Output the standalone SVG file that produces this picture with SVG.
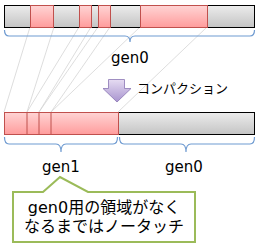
<svg xmlns="http://www.w3.org/2000/svg" width="260" height="250" viewBox="0 0 260 250">
<defs>
<linearGradient id="gGray" x1="0" y1="0" x2="0" y2="1"><stop offset="0" stop-color="#ececec"/><stop offset="1" stop-color="#c4c4c4"/></linearGradient>
<linearGradient id="gRed" x1="0" y1="0" x2="0" y2="1"><stop offset="0" stop-color="#ffd4d4"/><stop offset="1" stop-color="#ff9c9c"/></linearGradient>
<linearGradient id="gArrow" x1="0" y1="0" x2="0" y2="1"><stop offset="0" stop-color="#e6dcf2"/><stop offset="1" stop-color="#a894cf"/></linearGradient>
</defs>
<style>
.bar{fill:url(#gGray);stroke:#000;stroke-width:1}
.red{fill:url(#gRed);stroke:#c0504d;stroke-width:1}
.brace{fill:none;stroke:#6f9bd1;stroke-width:1.2}
.conn{stroke:#d4d4d4;stroke-width:0.8;fill:none}
.lbl{font-family:"DejaVu Sans","Noto Sans CJK JP",sans-serif;fill:#000}
</style>
<g id="connectors">
<line class="conn" x1="30" y1="27" x2="4" y2="112"/>
<line class="conn" x1="54" y1="27" x2="27" y2="112"/>
<line class="conn" x1="79" y1="27" x2="27" y2="112"/>
<line class="conn" x1="91" y1="27" x2="39" y2="112"/>
<line class="conn" x1="98" y1="27" x2="39" y2="112"/>
<line class="conn" x1="110" y1="27" x2="51" y2="112"/>
<line class="conn" x1="140" y1="27" x2="51" y2="112"/>
<line class="conn" x1="207" y1="27" x2="118" y2="112"/>
</g>
<g id="topbar">
<rect class="bar" x="4.5" y="5.5" width="250" height="22"/>
<rect class="red" x="30.5" y="5.5" width="23" height="22"/>
<rect class="red" x="79.5" y="5.5" width="12" height="22"/>
<rect class="red" x="98.5" y="5.5" width="12" height="22"/>
<rect class="red" x="140.5" y="5.5" width="67" height="22"/>
</g>
<g id="topbrace">
<path class="brace" d="M4.5,30 Q4.5,36 9,36 H125 Q130,36 130,42 Q130,36 135,36 H250 Q254.5,36 254.5,30"/>
<text class="lbl" x="130" y="63" font-size="15" text-anchor="middle">gen0</text>
</g>
<g id="arrow">
<polygon points="108.5,79.5 124.5,79.5 124.5,88.5 131,88.5 117,102 103,88.5 108.5,88.5" fill="url(#gArrow)" stroke="#8a76b4" stroke-width="0.8"/>
<text class="lbl" x="137" y="93" font-size="13">コンパクション</text>
</g>
<g id="bottombar">
<rect class="bar" x="4.5" y="112.5" width="250" height="22"/>
<rect class="red" x="4.5" y="112.5" width="114" height="22"/>
<line x1="27" y1="112.5" x2="27" y2="134.5" stroke="#c0504d"/>
<line x1="39" y1="112.5" x2="39" y2="134.5" stroke="#c0504d"/>
<line x1="51" y1="112.5" x2="51" y2="134.5" stroke="#c0504d"/>
</g>
<g id="gen1">
<path class="brace" d="M4.5,137 Q4.5,144 9,144 H56 Q61,144 61,152 Q61,144 66,144 H113 Q117.5,144 117.5,137"/>
<text class="lbl" x="61" y="172" font-size="15" text-anchor="middle">gen1</text>
</g>
<g id="gen0">
<path class="brace" d="M119.5,137 Q119.5,144 124,144 H181 Q186,144 186,152 Q186,144 191,144 H250 Q254.5,144 254.5,137"/>
<text class="lbl" x="184" y="172" font-size="15" text-anchor="middle">gen0</text>
</g>
<g id="callout">
<path d="M13,192 H43 L60,177 L88,192 H195 V242 H13 Z" fill="#fff" stroke="#9bbb59" stroke-width="2"/>
<text class="lbl" x="104" y="213" font-size="16" text-anchor="middle">gen0用の領域がなく</text>
<text class="lbl" x="104" y="232" font-size="16" text-anchor="middle">なるまではノータッチ</text>
</g>
</svg>
